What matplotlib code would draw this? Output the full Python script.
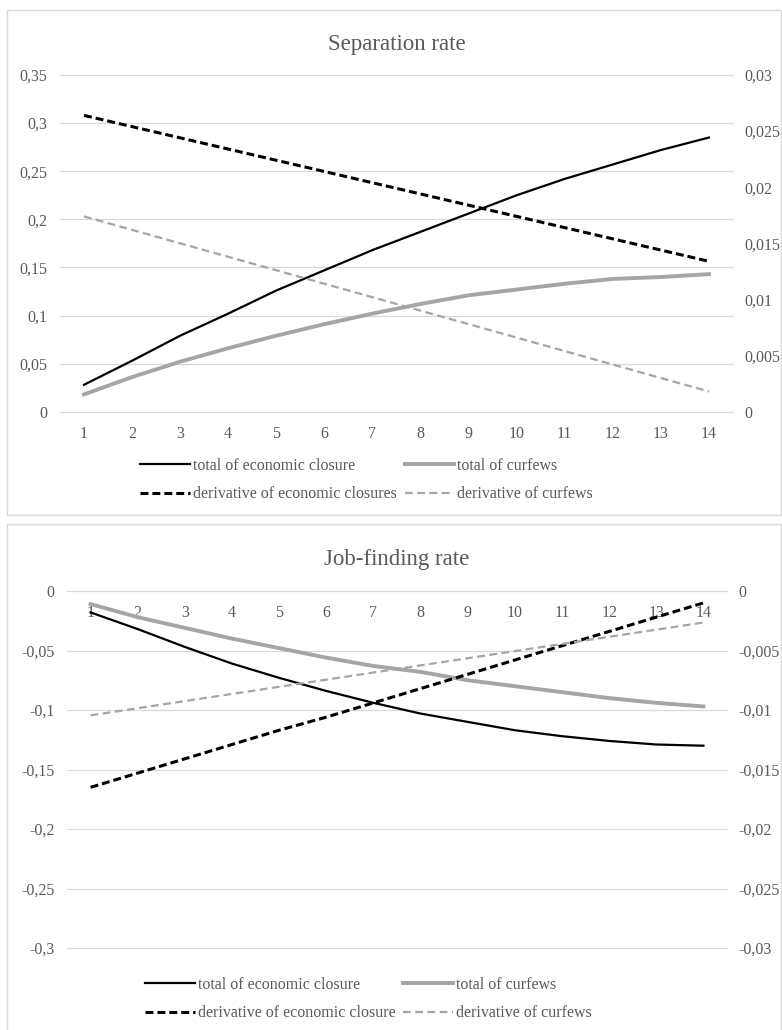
import numpy as np
import matplotlib
matplotlib.use("Agg")
import matplotlib.pyplot as plt
from matplotlib.patches import Rectangle
from matplotlib.ticker import FuncFormatter

plt.rcParams['font.family'] = ['Liberation Serif', 'DejaVu Serif']

periods = list(range(1, 15))

# separation rate (left axis: totals, right axis: derivatives)
sep_total_closure = [0.028, 0.053, 0.079, 0.102, 0.126, 0.147, 0.168,
                     0.187, 0.206, 0.225, 0.242, 0.257, 0.272, 0.285]
sep_total_curfew = [0.018, 0.036, 0.052, 0.066, 0.079, 0.091, 0.102,
                    0.112, 0.121, 0.127, 0.133, 0.138, 0.140, 0.143]
sep_deriv_closure = [0.0264, 0.0254, 0.0244, 0.0234, 0.0224, 0.0214, 0.0204,
                     0.0194, 0.0184, 0.0174, 0.0164, 0.0154, 0.0144, 0.0134]
sep_deriv_curfew = [0.0174, 0.0162, 0.0150, 0.0138, 0.0126, 0.0114, 0.0102,
                    0.0090, 0.0078, 0.0066, 0.0054, 0.0042, 0.0030, 0.0018]

# job-finding rate
job_total_closure = [-0.018, -0.032, -0.047, -0.061, -0.073, -0.084, -0.094,
                     -0.103, -0.110, -0.117, -0.122, -0.126, -0.129, -0.130]
job_total_curfew = [-0.011, -0.022, -0.031, -0.040, -0.048, -0.056, -0.063,
                    -0.068, -0.075, -0.080, -0.085, -0.090, -0.094, -0.097]
job_deriv_closure = [-0.0165, -0.0153, -0.0141, -0.0129, -0.0117, -0.0106, -0.0094,
                     -0.0082, -0.0070, -0.0058, -0.0046, -0.0034, -0.0022, -0.0010]
job_deriv_curfew = [-0.01045, -0.00985, -0.00925, -0.00865, -0.00805, -0.00745, -0.00685,
                    -0.00625, -0.00565, -0.00505, -0.00445, -0.00385, -0.00325, -0.00265]

TEXT = '#595959'
GRID = '#d9d9d9'
GRAY = '#a5a5a5'
W, H = 782, 1030


def comma(v, pos=None):
    if abs(v) < 1e-12:
        return "0"
    return f"{round(v, 4):g}".replace('.', ',')


def panel(rect, title, lim_l, step_l, lim_r, step_r, tot_c, tot_f, der_c, der_f,
          labels, legend_xy, title_pad):
    ax = fig.add_axes(rect)
    ax2 = ax.twinx()
    l1, = ax.plot(periods, tot_c, color='black', lw=1.6)
    l2, = ax.plot(periods, tot_f, color=GRAY, lw=2.8)
    l3, = ax2.plot(periods, der_c, color='black', lw=2.2, dashes=(2.6, 1.3))
    l4, = ax2.plot(periods, der_f, color=GRAY, lw=1.6, dashes=(3.5, 2.0))

    ax.set_xlim(0.5, 14.5)
    ax.set_ylim(*lim_l)
    ax2.set_ylim(*lim_r)
    ax.set_yticks(np.round(np.arange(lim_l[0], lim_l[1] + step_l / 2, step_l), 4))
    ax2.set_yticks(np.round(np.arange(lim_r[0], lim_r[1] + step_r / 2, step_r), 4))
    ax.yaxis.set_major_formatter(FuncFormatter(comma))
    ax2.yaxis.set_major_formatter(FuncFormatter(comma))
    ax.set_xticks(periods)

    ax.grid(axis='y', color=GRID, lw=0.9)
    ax.set_axisbelow(True)
    for t in ax.yaxis.get_major_ticks():
        t.gridline.set_clip_on(False)
    for a in (ax, ax2):
        for s in a.spines.values():
            s.set_visible(False)
    # category axis crosses at zero, like the spreadsheet chart
    ax.spines['bottom'].set_position(('data', 0))

    ax.tick_params(axis='x', length=0, pad=10, labelsize=11.5, labelcolor=TEXT)
    ax.tick_params(axis='y', length=0, pad=9, labelsize=11.5, labelcolor=TEXT)
    ax2.tick_params(axis='y', length=0, pad=8, labelsize=11.5, labelcolor=TEXT)

    ax.set_title(title, fontsize=16.5, color=TEXT, y=1.0, pad=title_pad)

    fig.legend([l1, l3, l2, l4], [labels[0], labels[2], labels[1], labels[3]],
               loc='upper left', bbox_to_anchor=legend_xy, ncol=2, frameon=False,
               fontsize=11.5, handlelength=3.1, handletextpad=0.2,
               columnspacing=0.5, labelspacing=0.78, borderpad=0,
               borderaxespad=0, labelcolor=TEXT)
    return ax, ax2


fig = plt.figure(figsize=(W / 100, H / 100), dpi=100)

fig.patches.append(Rectangle((7 / W, 1 - 515 / H), 774 / W, 505 / H,
                             transform=fig.transFigure, fill=False,
                             edgecolor=GRID, lw=1))
fig.patches.append(Rectangle((7 / W, -0.01), 774 / W, 1 - 524 / H + 0.01,
                             transform=fig.transFigure, fill=False,
                             edgecolor=GRID, lw=1))

panel([60 / W, 1 - 411.7 / H, 673 / W, 336.7 / H], "Separation rate",
      (0, 0.35), 0.05, (0, 0.03), 0.005,
      sep_total_closure, sep_total_curfew, sep_deriv_closure, sep_deriv_curfew,
      ["total of economic closure", "total of curfews",
       "derivative of economic closures", "derivative of curfews"],
      (140 / W, 1 - 458 / H), 18)

panel([67 / W, 1 - 948 / H, 660 / W, 357 / H], "Job-finding rate",
      (-0.3, 0), 0.05, (-0.03, 0), 0.005,
      job_total_closure, job_total_curfew, job_deriv_closure, job_deriv_curfew,
      ["total of economic closure", "total of curfews",
       "derivative of economic closure", "derivative of curfews"],
      (145 / W, 1 - 977 / H), 19)

fig.savefig("out.png", dpi=100)
